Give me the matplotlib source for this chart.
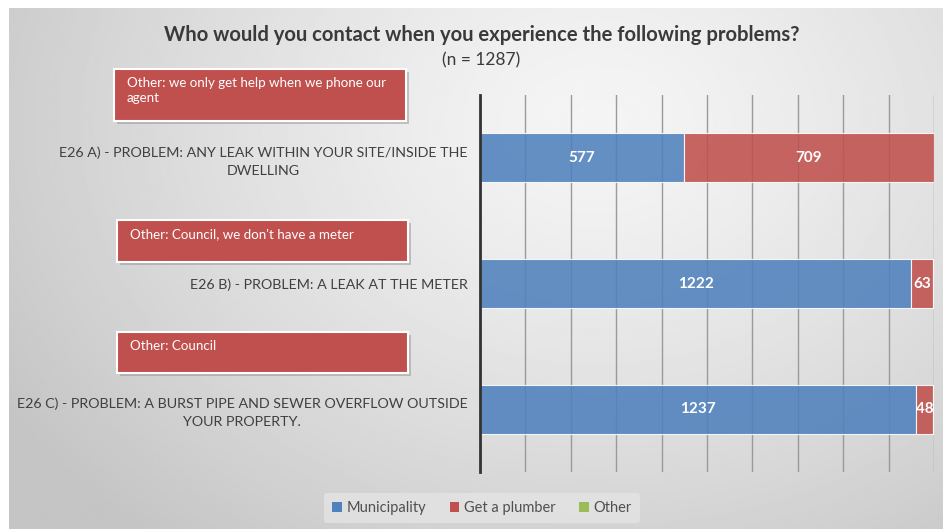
import matplotlib.pyplot as plt
import numpy as np
from matplotlib.patches import Patch, Rectangle

plt.rcParams["font.family"] = ["Lato", "DejaVu Sans"]

W, H = 943, 529

categories = [
    "E26 A) - PROBLEM: ANY LEAK WITHIN YOUR SITE/INSIDE THE\nDWELLING",
    "E26 B) - PROBLEM: A LEAK AT THE METER",
    "E26 C) - PROBLEM: A BURST PIPE AND SEWER OVERFLOW OUTSIDE\nYOUR PROPERTY.",
]
series_names = ["Municipality", "Get a plumber", "Other"]
municipality = [577, 1222, 1237]
plumber = [709, 63, 48]
other = [1, 2, 2]
other_notes = [
    "Other: we only get help when we phone our\nagent",
    "Other: Council, we don't have a meter",
    "Other: Council",
]
colors = ["#4F81BD", "#C0504D", "#9BBB59"]


def fx(x):
    return x / W


def fy(y):
    return 1 - y / H


fig = plt.figure(figsize=(W / 100, H / 100), dpi=100)
fig.patch.set_facecolor("white")

# shaded slide-style backdrop
bg = fig.add_axes([fx(9), 0, 1 - fx(9), fy(8)])
gx, gy = np.meshgrid(np.linspace(0, 1, 400), np.linspace(0, 1, 240))
r = np.sqrt(((gx - 0.63) / 0.75) ** 2 + ((gy - 0.22) / 1.05) ** 2)
shade = 0.96 - 0.19 * np.clip(r, 0, 1) ** 1.3
bg.imshow(shade, cmap="gray", vmin=0, vmax=1, aspect="auto", extent=[0, 1, 1, 0], interpolation="bilinear")
bg.set_xlim(0, 1)
bg.set_ylim(1, 0)
bg.axis("off")

ax = fig.add_axes([fx(480), fy(472), fx(934) - fx(480), (472 - 95) / H])
ax.patch.set_alpha(0)

totals = [m + p + o for m, p, o in zip(municipality, plumber, other)]
ypos = np.arange(len(categories))
shares = [np.array(s) / np.array(totals) for s in (municipality, plumber, other)]
raw = [municipality, plumber, other]

left = np.zeros(len(categories))
for name, share, vals, col in zip(series_names, shares, raw, colors):
    ax.barh(ypos, share, left=left, height=0.39, color=col, alpha=0.88,
            edgecolor=(1, 1, 1, 0.5), linewidth=0.8, zorder=3)
    if name != "Other":
        for y, l, s, v in zip(ypos, left, share, vals):
            ax.text(l + s / 2, y, str(v), ha="center", va="center", color="white",
                    fontsize=11, fontweight="bold", zorder=4)
    left = left + share

ax.set_xlim(0, 1)
ax.set_ylim(len(categories) - 0.5, -0.5)
ax.set_xticks(np.arange(0, 1.01, 0.1))
ax.xaxis.grid(True, color="#9a9a9a", linewidth=1.0, zorder=1)
ax.tick_params(axis="x", length=0, labelbottom=False)
ax.tick_params(axis="y", length=0, pad=9)
ax.set_yticks(ypos)
ax.set_yticklabels(categories, fontsize=10.3, color="#404040", multialignment="center",
                   linespacing=1.55)
for side in ("top", "right", "bottom"):
    ax.spines[side].set_visible(False)
ax.spines["left"].set_color("#333333")
ax.spines["left"].set_linewidth(2)
ax.spines["left"].set_zorder(5)

fig.text(fx(482), fy(35), "Who would you contact when you experience the following problems?",
         ha="center", va="center", fontsize=14.6, fontweight="bold", color="#3a3a3a")
fig.text(fx(481), fy(60), "(n = 1287)", ha="center", va="center", fontsize=12.5, color="#3a3a3a")

# callout boxes with the free-text "Other" answers
boxes = [(114, 69, 406, 121), (117, 220, 408, 262), (117, 332, 408, 373)]
for (x0, y0, x1, y1), note in zip(boxes, other_notes):
    shadow = Rectangle((fx(x0 + 3), fy(y1 + 3)), fx(x1 - x0), (y1 - y0) / H,
                       transform=fig.transFigure, facecolor="#8a8a8a", alpha=0.45,
                       edgecolor="none", zorder=5)
    fig.add_artist(shadow)
    box = Rectangle((fx(x0), fy(y1)), fx(x1 - x0), (y1 - y0) / H,
                    transform=fig.transFigure, facecolor="#C0504D",
                    edgecolor="white", linewidth=1.5, zorder=6)
    fig.add_artist(box)
    fig.text(fx(x0 + 13), fy(y0 + 8), note, ha="left", va="top", fontsize=9.6,
             color="white", linespacing=1.3, zorder=7)

handles = [Patch(facecolor=c, edgecolor="none") for c in colors]
leg = fig.legend(handles, series_names, loc="center", bbox_to_anchor=(fx(482), fy(508)),
                 ncol=3, frameon=True, fontsize=10.5, handlelength=0.65, handleheight=0.65,
                 handletextpad=0.35, columnspacing=1.6, borderpad=0.55)
leg.get_frame().set_facecolor("#e4e4e4")
leg.get_frame().set_edgecolor("none")
leg.get_frame().set_alpha(0.8)
for t in leg.get_texts():
    t.set_color("#505050")

fig.savefig("out.png", dpi=100)
